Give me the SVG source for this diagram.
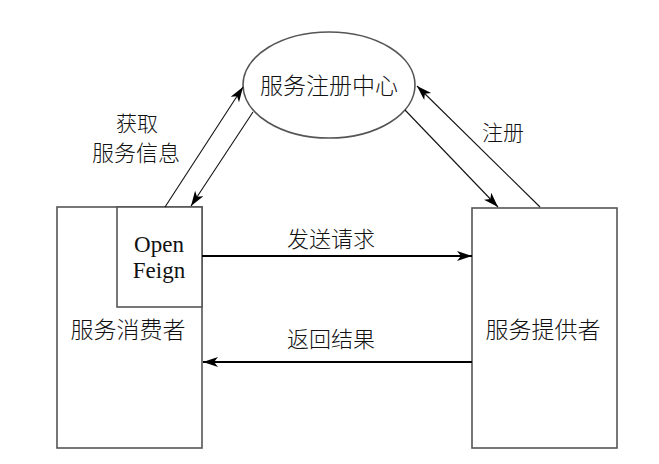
<svg xmlns="http://www.w3.org/2000/svg" width="659" height="464" viewBox="0 0 659 464">
  <style>
    .box { fill: #fff; stroke: #555; stroke-width: 1.6; }
    .cjk { font-family: "Noto Sans CJK SC", sans-serif; font-weight: 300; fill: #111; text-anchor: middle; }
    .lat { font-family: "Liberation Serif", serif; fill: #111; text-anchor: middle; }
    .thin { stroke: #111; stroke-width: 1.1; fill: none; }
    .thick { stroke: #000; stroke-width: 2.2; fill: none; }
  </style>
  <defs>
    <marker id="arrow" markerUnits="userSpaceOnUse" markerWidth="16" markerHeight="12" refX="15" refY="5" orient="auto">
      <path d="M0,0 L15,5 L0,10 L4,5 z" fill="#000"/>
    </marker>
  </defs>

  <!-- registry -->
  <g id="registry">
    <ellipse cx="329" cy="85" rx="86" ry="53" class="box" stroke="#111"/>
    <text x="329" y="94" class="cjk" font-size="23">服务注册中心</text>
  </g>

  <!-- consumer with embedded OpenFeign client -->
  <g id="consumer">
    <rect x="57" y="207" width="145" height="241" class="box"/>
    <text x="128" y="338" class="cjk" font-size="23">服务消费者</text>
  </g>
  <g id="openfeign">
    <rect x="117" y="207" width="85" height="100" class="box"/>
    <text x="159" y="252" class="lat" font-size="23">Open</text>
    <text x="159" y="278" class="lat" font-size="23">Feign</text>
  </g>

  <!-- provider -->
  <g id="provider">
    <rect x="472" y="208" width="145" height="240" class="box"/>
    <text x="543" y="338" class="cjk" font-size="23">服务提供者</text>
  </g>

  <!-- connectors -->
  <g id="connectors">
    <line x1="165" y1="207" x2="243" y2="87" class="thin" marker-end="url(#arrow)"/>
    <line x1="253" y1="112" x2="191" y2="206" class="thin" marker-end="url(#arrow)"/>
    <line x1="540" y1="207" x2="417" y2="86" class="thin" marker-end="url(#arrow)"/>
    <line x1="405" y1="110" x2="498" y2="207" class="thin" marker-end="url(#arrow)"/>
    <line x1="202" y1="256" x2="472" y2="256" class="thick" marker-end="url(#arrow)"/>
    <line x1="472" y1="362" x2="203" y2="362" class="thick" marker-end="url(#arrow)"/>
  </g>

  <!-- connector labels -->
  <g id="labels">
    <text x="137" y="131" class="cjk" font-size="21">获取</text>
    <text x="136" y="161" class="cjk" font-size="22">服务信息</text>
    <text x="503" y="140" class="cjk" font-size="21">注册</text>
    <text x="331" y="247" class="cjk" font-size="22">发送请求</text>
    <text x="331" y="347" class="cjk" font-size="22">返回结果</text>
  </g>
</svg>
